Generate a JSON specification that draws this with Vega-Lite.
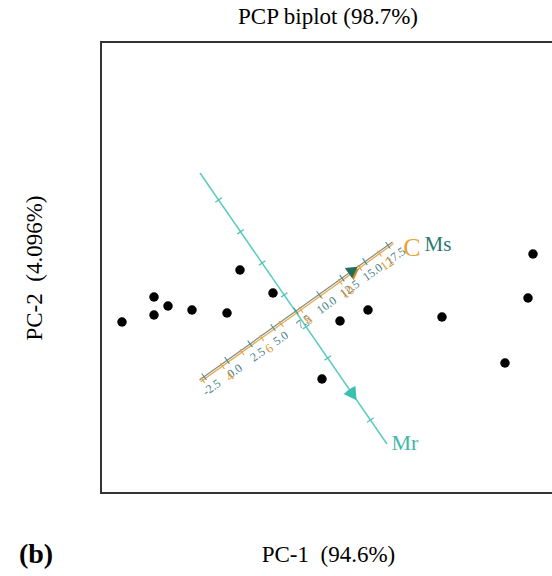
{
  "$schema": "https://vega.github.io/schema/vega-lite/v6.json",
  "width": 454,
  "height": 451,
  "autosize": {"type": "none"},
  "padding": {"left": 101, "top": 42, "right": -3, "bottom": 83},
  "background": "white",
  "config": {
    "view": {"stroke": "#333333", "strokeWidth": 2},
    "font": "Liberation Serif"
  },
  "title": {
    "text": "PCP biplot (98.7%)",
    "font": "Liberation Serif",
    "fontSize": 23,
    "fontWeight": "normal",
    "color": "black",
    "anchor": "middle",
    "frame": "group",
    "offset": 13
  },
  "datasets": {
    "scores": [
      {"pc1": -3.48, "pc2": -0.22},
      {"pc1": -2.84, "pc2": 0.28},
      {"pc1": -2.84, "pc2": -0.08},
      {"pc1": -2.56, "pc2": 0.10},
      {"pc1": -2.08, "pc2": 0.02},
      {"pc1": -1.38, "pc2": -0.04},
      {"pc1": -1.12, "pc2": 0.82},
      {"pc1": -0.46, "pc2": 0.36},
      {"pc1": 0.52, "pc2": -1.36},
      {"pc1": 0.88, "pc2": -0.20},
      {"pc1": 1.44, "pc2": 0.02},
      {"pc1": 2.92, "pc2": -0.12},
      {"pc1": 4.18, "pc2": -1.04},
      {"pc1": 4.64, "pc2": 0.26},
      {"pc1": 4.74, "pc2": 1.14}
    ],
    "biplotAxes": [
      {"var": "Mr", "pc1": -1.92, "pc2": 2.76, "pc1_end": 1.82, "pc2_end": -2.66},
      {"var": "C", "pc1": -1.907, "pc2": -1.415, "pc1_end": 1.953, "pc2_end": 1.349},
      {"var": "Ms", "pc1": -1.93, "pc2": -1.382, "pc1_end": 1.93, "pc2_end": 1.382}
    ],
    "calibration": [
      {"var": "Ms", "pc1": -1.838, "pc2": -1.316, "text": "-2.5"},
      {"var": "Ms", "pc1": -1.3785, "pc2": -0.987, "text": "0.0"},
      {"var": "Ms", "pc1": -0.919, "pc2": -0.658, "text": "2.5"},
      {"var": "Ms", "pc1": -0.4595, "pc2": -0.329, "text": "5.0"},
      {"var": "Ms", "pc1": 0.0, "pc2": 0.0, "text": "7.5"},
      {"var": "Ms", "pc1": 0.4595, "pc2": 0.329, "text": "10.0"},
      {"var": "Ms", "pc1": 0.919, "pc2": 0.658, "text": "12.5"},
      {"var": "Ms", "pc1": 1.3785, "pc2": 0.987, "text": "15.0"},
      {"var": "Ms", "pc1": 1.838, "pc2": 1.316, "text": "17.5"},
      {"var": "C", "pc1": -1.864, "pc2": -1.384, "text": ""},
      {"var": "C", "pc1": -1.471, "pc2": -1.103, "text": "4"},
      {"var": "C", "pc1": -1.079, "pc2": -0.822, "text": ""},
      {"var": "C", "pc1": -0.686, "pc2": -0.541, "text": "6"},
      {"var": "C", "pc1": -0.294, "pc2": -0.260, "text": ""},
      {"var": "C", "pc1": 0.099, "pc2": 0.022, "text": "8"},
      {"var": "C", "pc1": 0.492, "pc2": 0.303, "text": ""},
      {"var": "C", "pc1": 0.884, "pc2": 0.584, "text": "10"},
      {"var": "C", "pc1": 1.277, "pc2": 0.865, "text": ""},
      {"var": "C", "pc1": 1.670, "pc2": 1.146, "text": "12"},
      {"var": "Mr", "pc1": -1.548, "pc2": 2.22, "text": ""},
      {"var": "Mr", "pc1": -1.11, "pc2": 1.586, "text": ""},
      {"var": "Mr", "pc1": -0.678, "pc2": 0.96, "text": ""},
      {"var": "Mr", "pc1": -0.236, "pc2": 0.32, "text": ""},
      {"var": "Mr", "pc1": 0.202, "pc2": -0.314, "text": ""},
      {"var": "Mr", "pc1": 0.634, "pc2": -0.94, "text": ""},
      {"var": "Mr", "pc1": 1.074, "pc2": -1.58, "text": ""},
      {"var": "Mr", "pc1": 1.488, "pc2": -2.18, "text": ""}
    ],
    "arrows": [
      {"var": "Mr", "pc1": 1.14, "pc2": -1.68},
      {"var": "C", "pc1": 1.17, "pc2": 0.78},
      {"var": "Ms", "pc1": 1.14, "pc2": 0.82}
    ],
    "varNames": [
      {"var": "C", "pc1": 2.32, "pc2": 1.26, "text": "C"},
      {"var": "Ms", "pc1": 2.84, "pc2": 1.32, "text": "Ms"},
      {"var": "Mr", "pc1": 2.18, "pc2": -2.64, "text": "Mr"}
    ],
    "panel": [
      {"pc1": -5.2, "pc2": -4.88, "text": "(b)"}
    ]
  },
  "encoding": {
    "x": {
      "field": "pc1",
      "type": "quantitative",
      "scale": {"domain": [-3.9, 5.18], "nice": false, "zero": false},
      "axis": {
        "domain": false,
        "ticks": false,
        "labels": false,
        "grid": false,
        "title": "PC-1\u00a0\u00a0(94.6%)",
        "titleFont": "Liberation Serif",
        "titleFontSize": 23,
        "titleFontWeight": "normal",
        "titleColor": "black",
        "titlePadding": 50
      }
    },
    "y": {
      "field": "pc2",
      "type": "quantitative",
      "scale": {"domain": [-3.64, 5.38], "nice": false, "zero": false},
      "axis": {
        "domain": false,
        "ticks": false,
        "labels": false,
        "grid": false,
        "title": "PC-2\u00a0\u00a0(4.096%)",
        "titleFont": "Liberation Serif",
        "titleFontSize": 23,
        "titleFontWeight": "normal",
        "titleColor": "black",
        "titlePadding": 55
      }
    }
  },
  "layer": [
    {
      "data": {"name": "biplotAxes"},
      "transform": [{"filter": "datum.var === 'Mr'"}],
      "mark": {"type": "rule", "color": "#5ccbc0", "strokeWidth": 1.5},
      "encoding": {"x2": {"field": "pc1_end"}, "y2": {"field": "pc2_end"}}
    },
    {
      "data": {"name": "biplotAxes"},
      "transform": [{"filter": "datum.var === 'C'"}],
      "mark": {"type": "rule", "color": "#e8a84a", "strokeWidth": 1.3},
      "encoding": {"x2": {"field": "pc1_end"}, "y2": {"field": "pc2_end"}}
    },
    {
      "data": {"name": "biplotAxes"},
      "transform": [{"filter": "datum.var === 'Ms'"}],
      "mark": {"type": "rule", "color": "#7f8c80", "strokeWidth": 1.2},
      "encoding": {"x2": {"field": "pc1_end"}, "y2": {"field": "pc2_end"}}
    },
    {
      "data": {"name": "calibration"},
      "transform": [{"filter": "datum.var === 'Mr'"}],
      "mark": {"type": "point", "shape": "stroke", "size": 64, "angle": -34.6, "filled": false, "strokeWidth": 1.3, "color": "#4cc3b6", "opacity": 1}
    },
    {
      "data": {"name": "calibration"},
      "transform": [{"filter": "datum.var === 'C'"}],
      "mark": {"type": "point", "shape": "stroke", "size": 49, "angle": 54.4, "filled": false, "strokeWidth": 1.1, "color": "#e5a040", "opacity": 1}
    },
    {
      "data": {"name": "calibration"},
      "transform": [{"filter": "datum.var === 'Ms'"}],
      "mark": {"type": "point", "shape": "stroke", "size": 64, "angle": 54.4, "filled": false, "strokeWidth": 1.1, "color": "#4d8f93", "opacity": 1}
    },
    {
      "data": {"name": "calibration"},
      "transform": [{"filter": "datum.var === 'Ms'"}],
      "mark": {"type": "text", "angle": -35.6, "dy": 13, "font": "Liberation Serif", "fontSize": 12, "color": "#3f8087", "align": "center", "baseline": "middle"},
      "encoding": {"text": {"field": "text"}}
    },
    {
      "data": {"name": "calibration"},
      "transform": [{"filter": "datum.var === 'C'"}],
      "mark": {"type": "text", "angle": -35.6, "dy": 13, "font": "Liberation Serif", "fontSize": 13, "color": "#e39a36", "align": "center", "baseline": "middle"},
      "encoding": {"text": {"field": "text"}}
    },
    {
      "data": {"name": "arrows"},
      "transform": [{"filter": "datum.var === 'Mr'"}],
      "mark": {"type": "point", "shape": "triangle-right", "size": 210, "angle": 55.4, "filled": true, "color": "#3dbfb0", "opacity": 1}
    },
    {
      "data": {"name": "arrows"},
      "transform": [{"filter": "datum.var === 'C'"}],
      "mark": {"type": "point", "shape": "triangle-right", "size": 160, "angle": -35.6, "filled": true, "color": "#d08a20", "opacity": 1}
    },
    {
      "data": {"name": "arrows"},
      "transform": [{"filter": "datum.var === 'Ms'"}],
      "mark": {"type": "point", "shape": "triangle-right", "size": 160, "angle": -35.6, "filled": true, "color": "#1f6e5e", "opacity": 1}
    },
    {
      "data": {"name": "varNames"},
      "transform": [{"filter": "datum.var === 'C'"}],
      "mark": {"type": "text", "font": "Liberation Serif", "fontSize": 26, "color": "#eba035", "align": "center", "baseline": "middle"},
      "encoding": {"text": {"field": "text"}}
    },
    {
      "data": {"name": "varNames"},
      "transform": [{"filter": "datum.var === 'Ms'"}],
      "mark": {"type": "text", "font": "Liberation Serif", "fontSize": 21, "color": "#2b7a70", "align": "center", "baseline": "middle"},
      "encoding": {"text": {"field": "text"}}
    },
    {
      "data": {"name": "varNames"},
      "transform": [{"filter": "datum.var === 'Mr'"}],
      "mark": {"type": "text", "font": "Liberation Serif", "fontSize": 22, "color": "#3db8aa", "align": "center", "baseline": "middle"},
      "encoding": {"text": {"field": "text"}}
    },
    {
      "data": {"name": "scores"},
      "mark": {"type": "circle", "size": 90, "color": "black", "opacity": 1}
    },
    {
      "data": {"name": "panel"},
      "mark": {"type": "text", "font": "Liberation Serif", "fontSize": 28, "fontWeight": "bold", "color": "black", "align": "center", "baseline": "middle"},
      "encoding": {"text": {"field": "text"}}
    }
  ]
}
